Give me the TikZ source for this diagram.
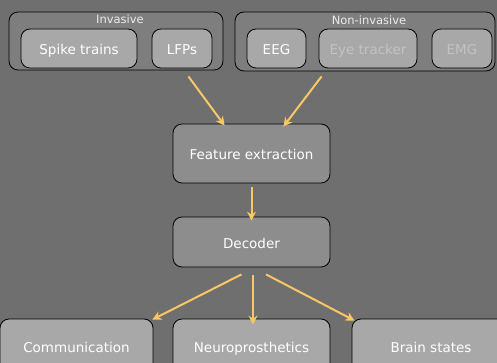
\documentclass[tikz,border=0pt]{standalone}
\usepackage{fontspec}
\setmainfont{DejaVu Sans}
\usetikzlibrary{arrows.meta}
\definecolor{bgc}{HTML}{6F6F6F}
\definecolor{grpc}{HTML}{7E7E7E}
\definecolor{lightc}{HTML}{A8A8A8}
\definecolor{midc}{HTML}{8D8D8D}
\definecolor{arrc}{HTML}{FBC765}
\definecolor{fadec}{HTML}{C3C3C3}
\tikzset{
  box/.style={draw=black, line width=0.8pt, rounded corners=9pt, text=white, font=\fontsize{13.5}{15}\selectfont, inner sep=0pt, text height=13pt, text depth=0pt},
  grp/.style={box, fill=grpc},
  leaf/.style={box, fill=lightc, minimum height=39pt},
  mid/.style={box, fill=midc, minimum width=157pt},
  grplabel/.style={text=white!92!black, font=\fontsize{11.5}{13}\selectfont, inner sep=0pt},
  arr/.style={draw=arrc, line width=2pt, -{Stealth[length=9pt,width=9pt]}},
}
\begin{document}
\begin{tikzpicture}[x=1pt,y=-1pt]
\fill[bgc] (0,0) rectangle (497,363);
\useasboundingbox (0,0) rectangle (497,363);
% groups
\node[grp, minimum width=214pt, minimum height=58pt] (inv) at (116,41) {};
\node[grplabel] (invl) at (120,19.5) {Invasive};
\node[grp, minimum width=260pt, minimum height=59pt] (non) at (365,41.5) {};
\node[grplabel] (nonl) at (369,20.5) {Non-invasive};
% leaves
\node[leaf, minimum width=116pt] (spike) at (79,48.5) {Spike trains};
\node[leaf, minimum width=60pt] (lfp) at (182,48.5) {LFPs};
\node[leaf, minimum width=59pt] (eeg) at (276.5,48.5) {EEG};
\node[leaf, minimum width=98pt, text=fadec] (eye) at (368,48.5) {Eye tracker};
\node[leaf, minimum width=60pt, text=fadec] (emg) at (462,48.5) {EMG};
% middle
\node[mid, minimum height=59pt] (feat) at (251.5,153.5) {Feature extraction};
\node[mid, minimum height=50pt] (dec) at (251.5,242) {Decoder};
% bottom
\node[leaf, minimum width=153pt, minimum height=54pt] (comm) at (76.5,346) {Communication};
\node[leaf, minimum width=157pt, minimum height=54pt] (neuro) at (251.5,346) {Neuroprosthetics};
\node[leaf, minimum width=158pt, minimum height=54pt] (brain) at (431,346) {Brain states};
% arrows
\draw[arr] ([xshift=-35pt,yshift=-6pt]inv.south east) -- ([xshift=52pt,yshift=-2pt]feat.north west);
\draw[arr] ([xshift=87pt,yshift=-5pt]non.south west) -- ([xshift=-47pt,yshift=-3pt]feat.north east);
\draw[arr] ([yshift=-4pt]feat.south) -- ([yshift=-4pt]dec.north);
\draw[arr] ([xshift=-10pt,yshift=-7pt]dec.south) -- ([xshift=-1pt,yshift=-1pt]comm.north east);
\draw[arr] ([xshift=1.5pt,yshift=-8pt]dec.south) -- ([xshift=1.5pt,yshift=-6pt]neuro.north);
\draw[arr] ([xshift=14.5pt,yshift=-7pt]dec.south) -- ([xshift=3pt,yshift=-2pt]brain.north west);
\end{tikzpicture}
\end{document}
